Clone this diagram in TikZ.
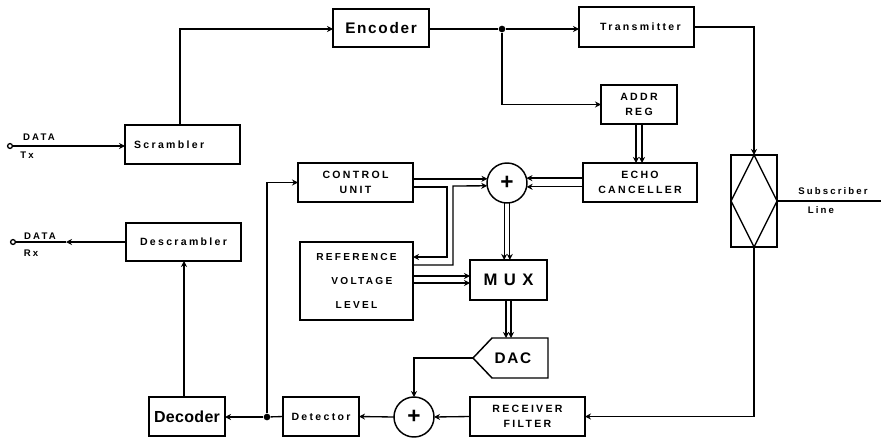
\documentclass[tikz,border=0pt]{standalone}
\usepackage{fontspec}
\setmainfont{Liberation Sans}
\newfontfamily\lsm[LetterSpace=22]{Liberation Sans}
\newfontfamily\lbg[LetterSpace=11]{Liberation Sans}
\newfontfamily\ltg[LetterSpace=2]{Liberation Sans}
\usetikzlibrary{arrows.meta,calc}
\tikzset{
  wire/.style={line width=1pt,line join=miter},
  arr/.style={wire,-{Stealth[length=4.5pt,width=4.5pt]}},
  boxn/.style={draw,line width=1.1pt,inner sep=0pt,outer sep=0pt,align=center,font=\lsm\bfseries\fontsize{7.9}{11.5}\selectfont},
  bigtxt/.style={font=\lbg\bfseries\fontsize{11.5}{14}\selectfont},
  lab/.style={inner sep=0pt,font=\lsm\bfseries\fontsize{7.2}{8}\selectfont},
  summer/.style={draw,circle,line width=1.1pt,inner sep=0pt,outer sep=0pt,minimum size=30pt,font=\bfseries\fontsize{17}{17}\selectfont},
  dotn/.style={circle,fill=black,inner sep=0pt,minimum size=5pt},
  term/.style={circle,draw,fill=white,line width=1pt,inner sep=0pt,minimum size=3.6pt}
}
\newcommand{\bx}[6][]{\node[boxn,#1,minimum width={(#5-#3)*.75pt},minimum height={(#6-#4)*.75pt}] (#2) at ({(#3+#5)/2},{(#4+#6)/2})}
\begin{document}
\begin{tikzpicture}[x=.75pt,y=-.75pt]
\useasboundingbox (0,0) rectangle (881,439);
% blocks
\bx[bigtxt]{enc}{333}{9}{429}{47} {Encoder};
\bx{scr}{125}{125}{240}{164} {Scrambler\hspace{20pt}};
\bx{des}{126}{223}{241}{261} {Descrambler};
\bx{tra}{579}{7}{694}{47} {\hspace{6pt}Transmitter};
\bx{adr}{601}{85}{677}{124} {ADDR\\REG};
\bx{ech}{583}{163}{697}{202} {ECHO\\CANCELLER};
\bx{ctl}{298}{163}{413}{202} {CONTROL\\UNIT};
\bx[font=\lsm\bfseries\fontsize{7.6}{18}\selectfont]{ref}{300}{242}{413}{320} {REFERENCE\\\hspace{8pt}VOLTAGE\\LEVEL};
\bx[font=\lbg\bfseries\fontsize{12.5}{14}\selectfont]{mux}{470}{260}{547}{300} {M U X};
\bx{rcv}{470}{397}{585}{436} {RECEIVER\\FILTER};
\bx{det}{283}{397}{359}{436} {Detector};
\bx[font=\ltg\bfseries\fontsize{12}{14}\selectfont]{dec}{149}{397}{225}{436} {Decoder};
\bx{hyb}{731}{155}{777}{247} {};
\node[summer] (s1) at (507,183) {+};
\node[summer] (s2) at (414,417) {+};
% DAC
\coordinate (dactip) at (473,358);
\coordinate (dactop) at (492,338);
\coordinate (dacbot) at (492,378);
\coordinate (dacne) at (548,338);
\coordinate (dacse) at (548,378);
\draw[line width=1.1pt] (dactip) -- (dactop) -- (dacne) -- (dacse) -- (dacbot) -- cycle;
\node[inner sep=0pt,font=\lbg\bfseries\fontsize{11.5}{14}\selectfont] (dac) at (513,358) {DAC};
% hybrid diamond
\draw[wire] (hyb.north) -- (hyb.east) -- (hyb.south) -- (hyb.west) -- cycle;
% text labels
\node[lab] (dtx) at (39,137) {DATA};
\node[lab] (ttx) at (27,155) {Tx};
\node[lab] (drx) at (40,236) {DATA};
\node[lab] (trx) at (31,253) {Rx};
\node[lab] (sub) at (833,191) {Subscriber};
\node[lab] (lin) at (821,210) {Line};
% terminals, junctions, free ends
\node[term] (itx) at (10,146) {};
\node[term] (irx) at (13,242) {};
\node[dotn] (j1) at (502,29) {};
\node[dotn] (j2) at (267,417) {};
\coordinate (rxtip) at (66,242);
\coordinate (subend) at (881,201);
% single connectors
\draw[arr] (itx) -- (scr.west |- itx);
\draw[arr] (scr.north -| 180,0) -- (180,29) -- (enc.west |- 0,29);
\draw[wire] (enc.east |- j1) -- (j1);
\draw[arr] (j1) -- (tra.west |- j1);
\draw[arr] (j1) -- (j1 |- adr.west) -- (adr.west);
\draw[arr] (tra.east) -- (tra.east -| hyb.north) -- (hyb.north);
\draw[wire] (hyb.east) -- (hyb.east -| subend);
\draw[arr] (hyb.south) -- (hyb.south |- rcv.east) -- (rcv.east);
\draw[arr] (rcv.west) -- (s2.east);
\draw[arr] (s2.west) -- (det.east);
\draw[arr] (dactip) -- (dactip -| s2.north) -- (s2.north);
\draw[wire] (det.west) -- (j2);
\draw[arr] (j2) -- (dec.east |- j2);
\draw[arr] (j2) -- (j2 |- ctl.west) -- (ctl.west);
\draw[arr] (dec.north -| 184,0) -- (des.south -| 184,0);
\draw[arr] (des.west) -- (rxtip);
\draw[wire] (rxtip) -- (irx);
% double connectors
\draw[arr] ($(adr.south)+(-3,0)$) -- ($(ech.north -| adr.south)+(-3,0)$);
\draw[arr] ($(adr.south)+(3,0)$) -- ($(ech.north -| adr.south)+(3,0)$);
\draw[arr] (s1.14 -| ech.west) -- (s1.14);
\draw[arr] (s1.-11 -| ech.west) -- (s1.-11);
\draw[arr] (s1.168 -| ctl.east) -- (s1.168);
\draw[arr] ($(ctl.east)+(0,4.5)$) -- (447,187) -- (447,257) -- ($(ref.east |- 0,257)$);
\draw[arr] (ref.east |- 0,265) -- (453,265) -- (453,186) -- (s1.188);
\draw[arr] (ref.east |- 0,276) -- (mux.west |- 0,276);
\draw[arr] (ref.east |- 0,283) -- (mux.west |- 0,283);
\draw[arr] (s1.262) -- (s1.262 |- mux.north);
\draw[arr] (s1.278) -- (s1.278 |- mux.north);
\draw[arr] (mux.south -| 506,0) -- (dactop -| 506,0);
\draw[arr] (mux.south -| 511,0) -- (dactop -| 511,0);
\end{tikzpicture}
\end{document}
